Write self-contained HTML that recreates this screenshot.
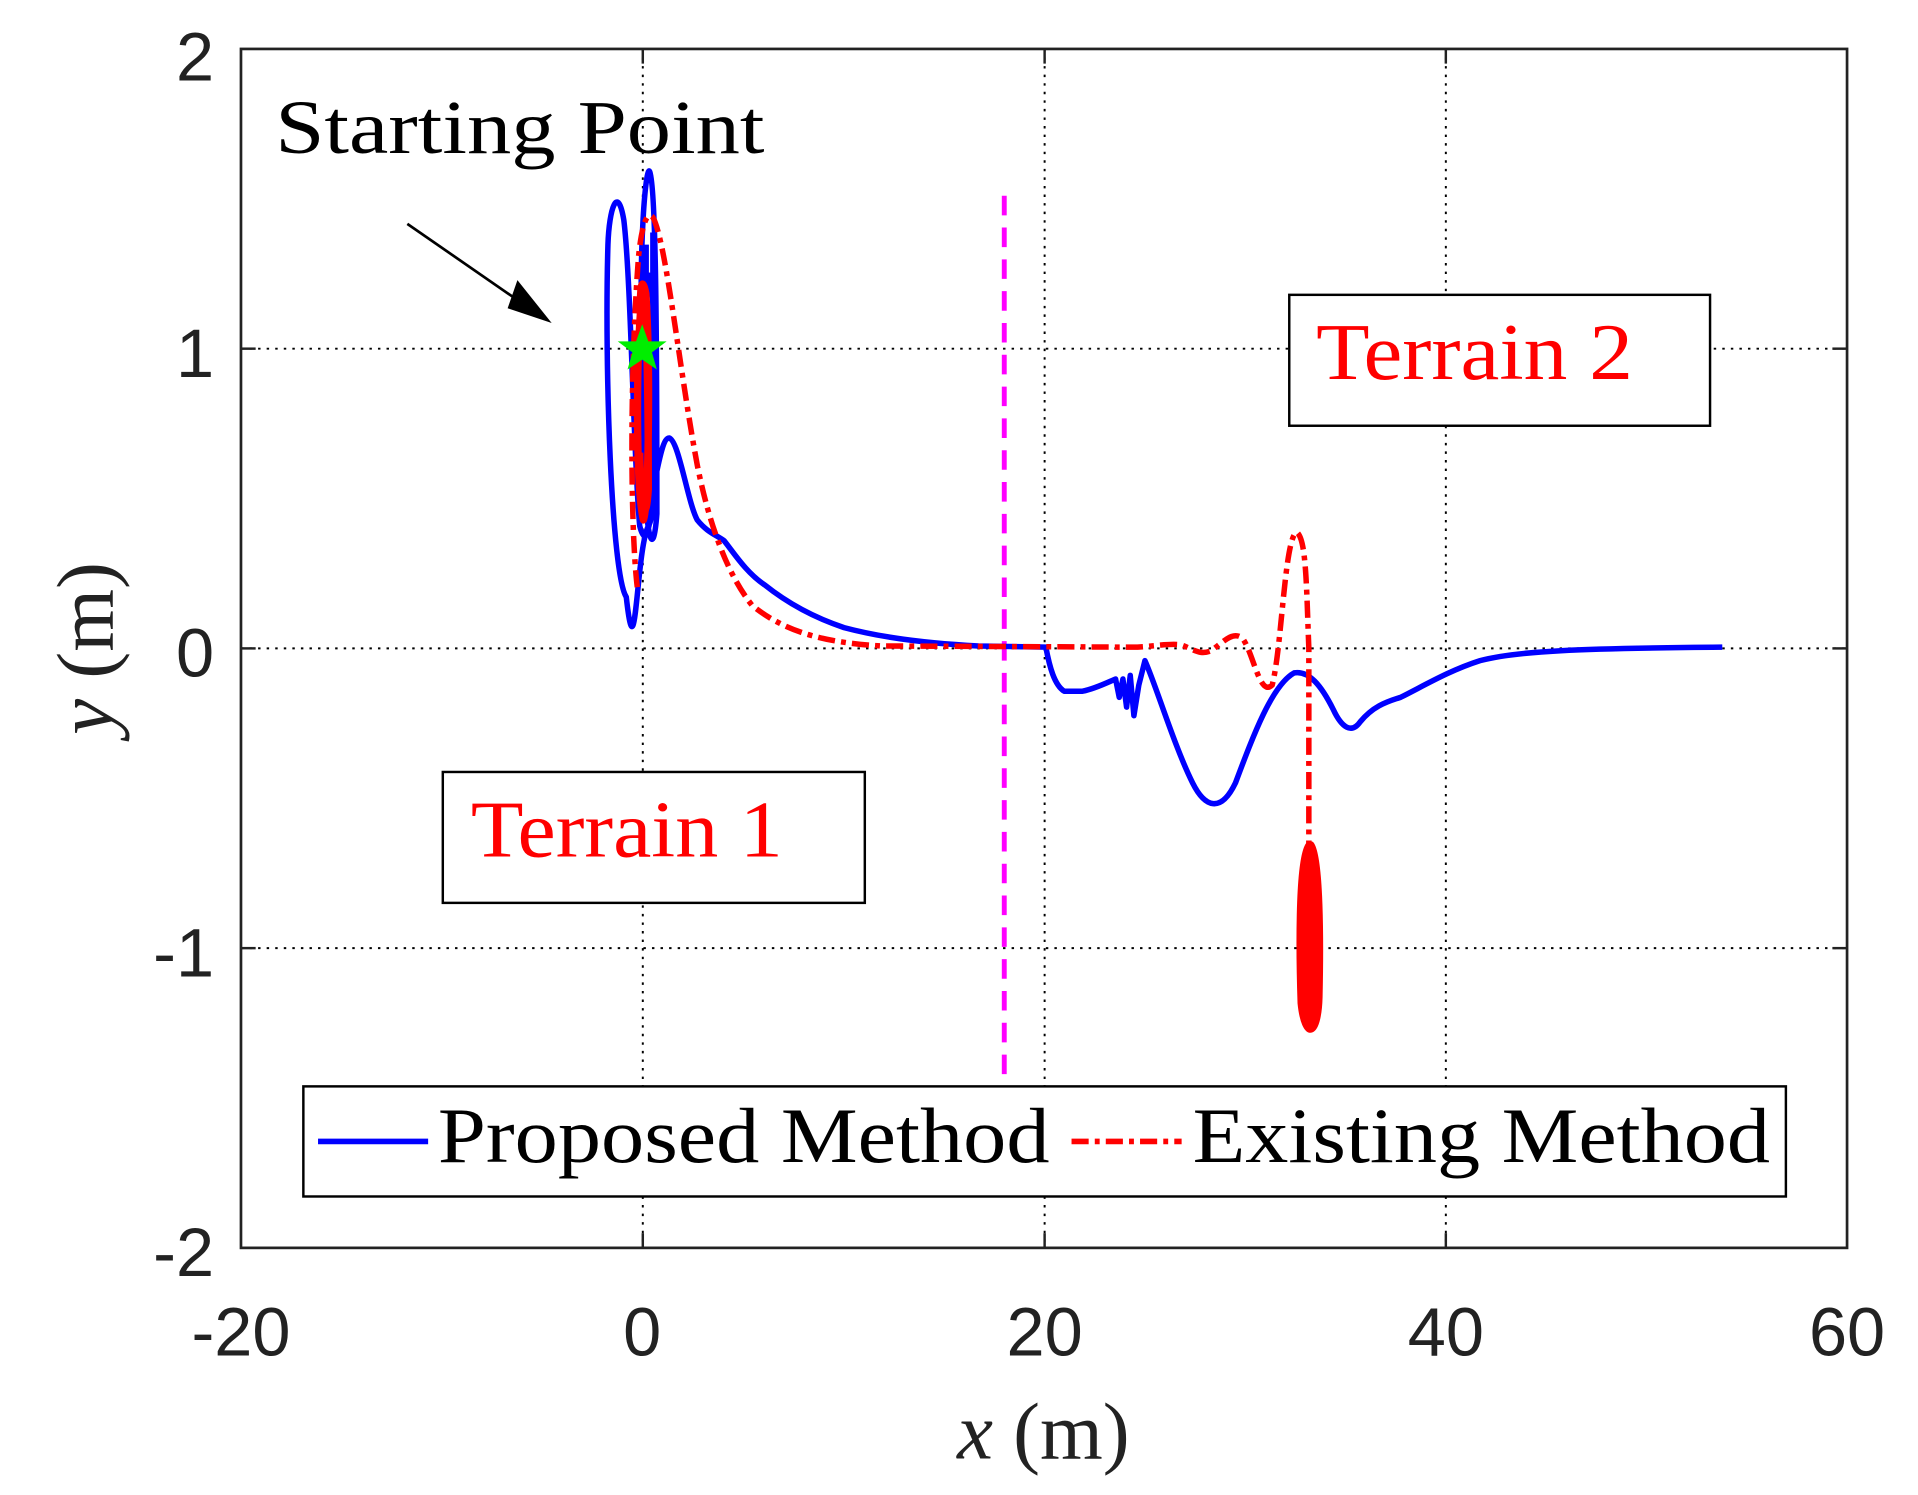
<!DOCTYPE html>
<html><head><style>
html,body{margin:0;padding:0;background:#fff;}
svg{display:block;}
.tick{font-family:"Liberation Sans",sans-serif;font-size:56px;fill:#222;}
.ser{font-family:"Liberation Serif",serif;}
</style></head><body>
<svg width="1918" height="1495" viewBox="0 0 1568 1222" preserveAspectRatio="none" xmlns="http://www.w3.org/2000/svg">
<rect x="0" y="0" width="1568" height="1222" fill="#fff"/>
<g stroke="#000" stroke-width="1.6" stroke-dasharray="2,5">
<line x1="525.5" y1="40" x2="525.5" y2="1020"/>
<line x1="854" y1="40" x2="854" y2="1020"/>
<line x1="1182" y1="40" x2="1182" y2="1020"/>
<line x1="197" y1="285" x2="1510" y2="285"/>
<line x1="197" y1="530" x2="1510" y2="530"/>
<line x1="197" y1="775" x2="1510" y2="775"/>
</g>
<line x1="821" y1="160" x2="821" y2="888" stroke="#ff00ff" stroke-width="4" stroke-dasharray="16,10"/>
<g fill="none" stroke="#0000ff" stroke-width="4.5" stroke-linejoin="round">
<path d="M525,285 C522,200 528,135 531,140 C536,150 537,260 537,420 C534,460 528,440 527,380 C524,300 528,230 531,225 C537,250 540,420 530,430 C520,450 520,560 512,488 C500,470 494,300 497,200 C498,170 505,150 510,180 C516,230 518,380 523,430 C528,450 532,430 536,390 C540,370 543,358 547,358 C555,360 562,410 570,425 C578,435 585,437 592,442 C600,452 610,468 625,478 C640,490 660,503 690,513 C720,521 760,526 800,528 L855,529 C858,545 862,560 870,565 L885,565 C895,563 905,558 912,555 L915,570 L918,555 L921,578 L924,552 L927,585 L931,560 L936,540 C945,560 960,610 975,640 C985,660 998,665 1010,640 C1025,600 1040,560 1058,550 C1070,548 1080,560 1090,580 C1097,595 1105,600 1112,590 C1122,578 1132,574 1145,570 C1165,560 1185,548 1210,540 C1240,532 1290,530 1408,529"/>
<path d="M528,200 L528,420 M534,190 L534,410" stroke-width="5"/>
</g>
<g fill="none" stroke="#ff0000" stroke-width="4.5" stroke-linejoin="round">
<path d="M525,285 C522,240 524,220 528,240 C532,300 530,420 526,425 C520,400 520,300 524,250 C528,230 530,300 530,400 C528,430 524,420 523,370" stroke-width="6"/>
<path stroke-dasharray="14,5,4,5" d="M521,480 C515,430 515,300 522,210 C525,180 530,172 534,178 C545,200 555,300 570,380 C580,430 595,470 615,495 C640,515 670,525 720,528 L930,529 C945,528 955,526 965,527 C975,530 980,536 990,532 C1000,525 1008,515 1016,522 C1025,535 1030,570 1040,560 C1048,530 1050,440 1060,435 C1068,440 1068,480 1070,530 L1070,690"/>
<path d="M1070,690 C1060,700 1062,790 1063,820 C1066,850 1078,850 1079,815 C1080,770 1080,700 1072,690 C1063,690 1063,760 1066,820 C1068,840 1075,835 1075,800 C1076,740 1074,700 1070,690 Z" fill="#ff0000"/>
</g>
<polygon points="525,265 530,279 545,279 533,288 537,302 525,294 513,302 517,288 505,279 520,279" fill="#00ee00"/>
<line x1="333" y1="183" x2="440" y2="257" stroke="#000" stroke-width="2.2"/>
<polygon points="451,264 423,229 415,252" fill="#000"/>
<text x="225" y="125" class="ser" font-size="62" fill="#000" textLength="400" lengthAdjust="spacingAndGlyphs">Starting Point</text>
<rect x="1054" y="241" width="344" height="107" fill="#fff" stroke="#000" stroke-width="2"/>
<text x="1076" y="310" class="ser" font-size="66" fill="#ff0000" textLength="259" lengthAdjust="spacingAndGlyphs">Terrain 2</text>
<rect x="362" y="631" width="345" height="107" fill="#fff" stroke="#000" stroke-width="2"/>
<text x="385" y="700" class="ser" font-size="66" fill="#ff0000" textLength="255" lengthAdjust="spacingAndGlyphs">Terrain 1</text>
<rect x="248" y="888" width="1212" height="90" fill="#fff" stroke="#000" stroke-width="2"/>
<line x1="260" y1="933" x2="350" y2="933" stroke="#0000ff" stroke-width="4.5"/>
<text x="358" y="950" class="ser" font-size="64" fill="#000" textLength="500" lengthAdjust="spacingAndGlyphs">Proposed Method</text>
<line x1="876" y1="933" x2="966" y2="933" stroke="#ff0000" stroke-width="4.5" stroke-dasharray="14,5,4,5"/>
<text x="975" y="950" class="ser" font-size="64" fill="#000" textLength="472" lengthAdjust="spacingAndGlyphs">Existing Method</text>
<rect x="197" y="40" width="1313" height="980" fill="none" stroke="#222" stroke-width="2.2"/>
<g stroke="#222" stroke-width="2">
<line x1="525.5" y1="1020" x2="525.5" y2="1008"/><line x1="854" y1="1020" x2="854" y2="1008"/><line x1="1182" y1="1020" x2="1182" y2="1008"/>
<line x1="525.5" y1="40" x2="525.5" y2="52"/><line x1="854" y1="40" x2="854" y2="52"/><line x1="1182" y1="40" x2="1182" y2="52"/>
<line x1="197" y1="285" x2="209" y2="285"/><line x1="197" y1="530" x2="209" y2="530"/><line x1="197" y1="775" x2="209" y2="775"/>
<line x1="1510" y1="285" x2="1498" y2="285"/><line x1="1510" y1="530" x2="1498" y2="530"/><line x1="1510" y1="775" x2="1498" y2="775"/>
</g>
<g class="tick" text-anchor="end">
<text x="175" y="66">2</text>
<text x="175" y="308">1</text>
<text x="175" y="553">0</text>
<text x="175" y="798">-1</text>
<text x="175" y="1043">-2</text>
</g>
<g class="tick" text-anchor="middle">
<text x="197" y="1108">-20</text>
<text x="525" y="1108">0</text>
<text x="854" y="1108">20</text>
<text x="1182" y="1108">40</text>
<text x="1510" y="1108">60</text>
</g>
<text x="853" y="1192" class="ser" font-size="66" text-anchor="middle" fill="#222"><tspan font-style="italic">x</tspan> (m)</text>
<text transform="translate(92,530) rotate(-90)" class="ser" font-size="66" text-anchor="middle" fill="#222"><tspan font-style="italic">y</tspan> (m)</text>
</svg>
</body></html>
